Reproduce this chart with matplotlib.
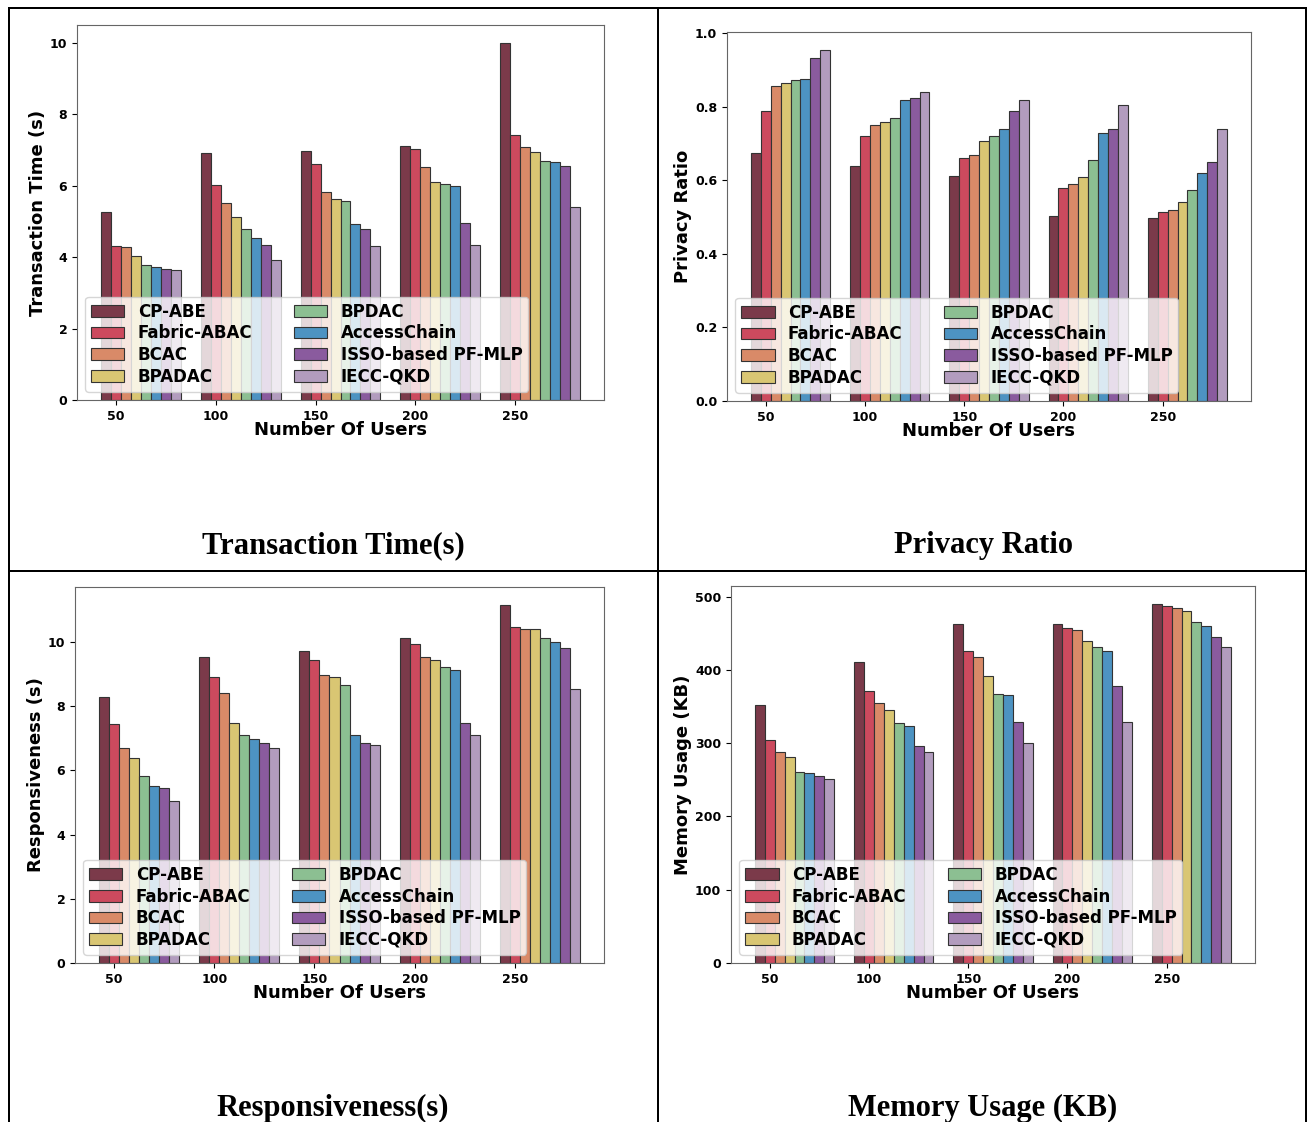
import numpy as np
import matplotlib.pyplot as plt
from matplotlib.lines import Line2D

plt.rcParams['font.family'] = 'DejaVu Sans'

users = [50, 100, 150, 200, 250]
methods = ["CP-ABE", "Fabric-ABAC", "BCAC", "BPADAC",
           "BPDAC", "AccessChain", "ISSO-based PF-MLP", "IECC-QKD"]
colors = ['#7b3a4a', '#cc4a5e', '#d98a68', '#d9c673',
          '#8cbf92', '#4d93c2', '#8a5b9e', '#b29cbe']

# rows = methods, columns = users
transaction_time = [
    [5.26, 6.93, 6.98, 7.12, 10.0],
    [4.30, 6.03, 6.60, 7.03, 7.41],
    [4.27, 5.51, 5.82, 6.53, 7.09],
    [4.04, 5.11, 5.63, 6.11, 6.94],
    [3.77, 4.78, 5.57, 6.06, 6.70],
    [3.73, 4.54, 4.94, 5.98, 6.67],
    [3.68, 4.33, 4.80, 4.96, 6.56],
    [3.64, 3.93, 4.30, 4.34, 5.40],
]
privacy_ratio = [
    [0.675, 0.640, 0.613, 0.504, 0.499],
    [0.789, 0.720, 0.662, 0.580, 0.514],
    [0.858, 0.750, 0.670, 0.590, 0.519],
    [0.865, 0.760, 0.707, 0.608, 0.541],
    [0.873, 0.771, 0.720, 0.656, 0.575],
    [0.876, 0.820, 0.740, 0.730, 0.619],
    [0.932, 0.825, 0.789, 0.740, 0.649],
    [0.956, 0.841, 0.820, 0.804, 0.740],
]
responsiveness = [
    [8.27, 9.54, 9.73, 10.12, 11.15],
    [7.43, 8.89, 9.45, 9.93, 10.46],
    [6.69, 8.41, 8.97, 9.53, 10.40],
    [6.38, 7.48, 8.90, 9.42, 10.40],
    [5.82, 7.11, 8.66, 9.21, 10.12],
    [5.50, 6.97, 7.11, 9.11, 9.98],
    [5.46, 6.86, 6.86, 7.46, 9.81],
    [5.03, 6.69, 6.79, 7.11, 8.54],
]
memory_usage = [
    [352, 411, 462, 463, 490],
    [305, 371, 426, 457, 487],
    [288, 355, 417, 455, 484],
    [281, 345, 391, 439, 481],
    [261, 327, 367, 431, 465],
    [259, 324, 366, 426, 460],
    [255, 296, 329, 378, 445],
    [251, 288, 300, 329, 431],
]

W, H = 1311, 1122
fig = plt.figure(figsize=(W / 100, H / 100), dpi=100)


def px_axes(l, t, r, b):
    return fig.add_axes([l / W, 1 - b / H, (r - l) / W, (b - t) / H])


panels = [
    (px_axes(77, 25, 604, 400), transaction_time, "Transaction Time (s)", "Transaction Time(s)", 333, 546),
    (px_axes(727, 32, 1251, 401), privacy_ratio, "Privacy Ratio", "Privacy Ratio", 983, 546),
    (px_axes(75, 587, 604, 963), responsiveness, "Responsiveness (s)", "Responsiveness(s)", 333, 1108),
    (px_axes(731, 586, 1255, 963), memory_usage, "Memory Usage (KB)", "Memory Usage (KB)", 983, 1108),
]

x = np.arange(len(users))
width = 0.1

for ax, data, ylab, caption, cx, cy in panels:
    for i, m in enumerate(methods):
        ax.bar(x + i * width, data[i], width, color=colors[i], label=m,
               edgecolor='#333333', linewidth=0.8)
    ax.set_xticks(x + width)
    ax.set_xticklabels(users)
    ax.set_xlabel("Number Of Users", fontsize=13, fontweight='bold', labelpad=-1)
    ax.set_ylabel(ylab, fontsize=13, fontweight='bold', labelpad=2)
    for lbl in ax.get_xticklabels() + ax.get_yticklabels():
        lbl.set_fontweight('bold')
        lbl.set_fontsize(9)
    for s in ax.spines.values():
        s.set_color('#666666')
    ax.legend(loc='lower left', ncol=2, prop={'weight': 'bold', 'size': 12},
              framealpha=0.8, labelspacing=0.22, columnspacing=2.5,
              borderpad=0.35)
    fig.text(cx / W, 1 - cy / H, caption, ha='center', va='center',
             fontsize=22, fontweight='bold', family='Liberation Serif')

# table borders
lw = 2.0 * 72 / 100
for xs, ys in [((8.5, 8.5), (8, H)), ((1306, 1306), (8, H)), ((658, 658), (8, H)),
               ((8.5, 1306), (8, 8)), ((8.5, 1306), (571, 571))]:
    fig.add_artist(Line2D([v / W for v in xs], [1 - v / H for v in ys],
                          color='black', linewidth=lw))

fig.savefig('out.png', dpi=100)
